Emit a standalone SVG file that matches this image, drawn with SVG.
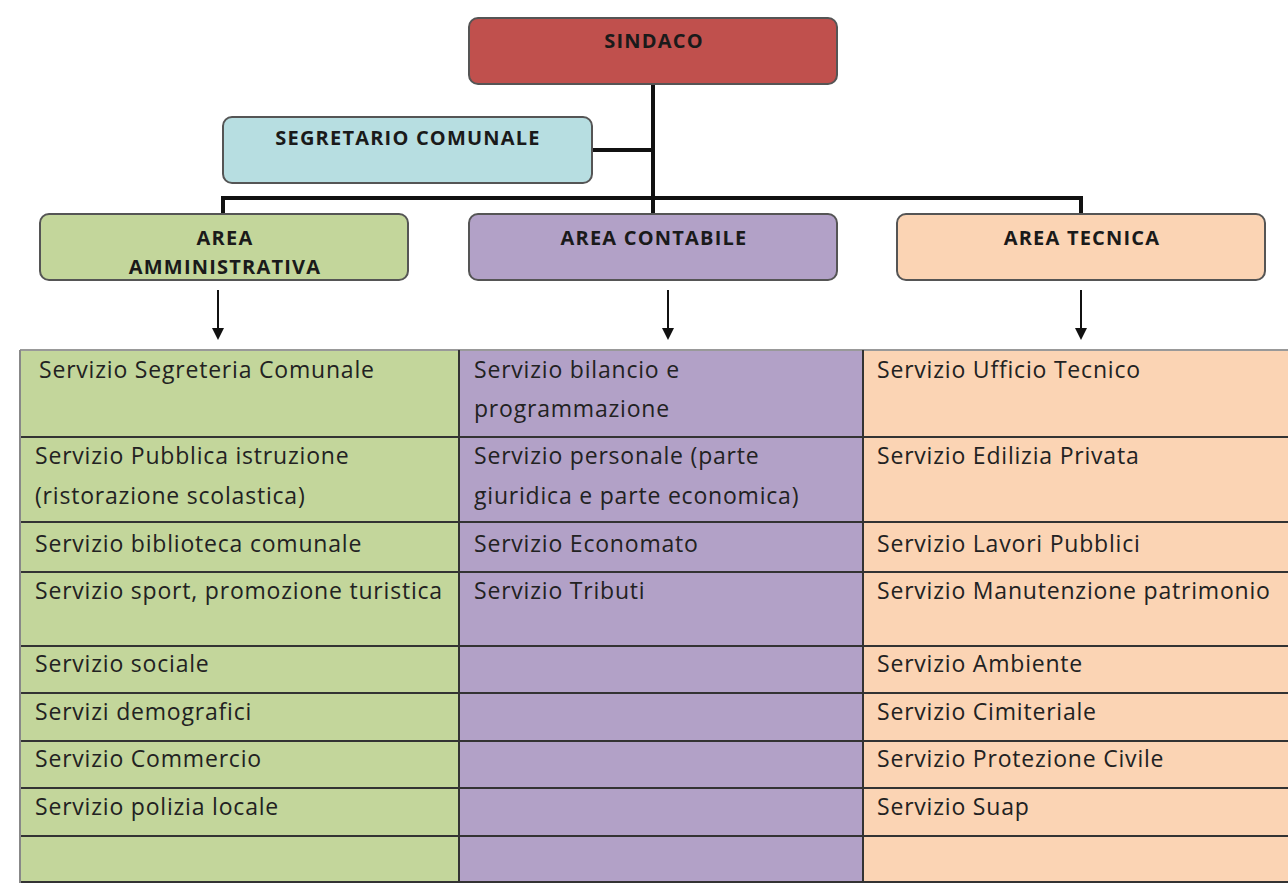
<svg xmlns="http://www.w3.org/2000/svg" width="1288" height="885" viewBox="0 0 1288 885">
<style>
.box{stroke:#555;stroke-width:2}
.hd{font-family:"Open Sans","Liberation Sans",sans-serif;font-weight:bold;font-size:20px;letter-spacing:1.2px;fill:#1a1a1a;text-anchor:middle}
.tx{font-family:"Open Sans","Liberation Sans",sans-serif;font-size:23px;letter-spacing:0.8px;fill:#222}
.ln{stroke:#111;stroke-width:4;fill:none}
.ar{stroke:#111;stroke-width:2;fill:none}
.grid{stroke:#333;stroke-width:2}
</style>
<defs>
<marker id="ah" markerWidth="12" markerHeight="12" refX="6" refY="6" orient="auto" markerUnits="userSpaceOnUse"><path d="M0,0 L12,6 L0,12 z" fill="#111"/></marker>
</defs>
<rect width="1288" height="885" fill="#fff"/>
<g id="connectors">
<path class="ln" d="M653,84 V213"/>
<path class="ln" d="M592,150 H653"/>
<path class="ln" d="M223,213 V198 H1081 V213"/>
<path class="ar" d="M218,290 V334" marker-end="url(#ah)"/>
<path class="ar" d="M668,290 V334" marker-end="url(#ah)"/>
<path class="ar" d="M1081,290 V334" marker-end="url(#ah)"/>
</g>
<g id="sindaco"><rect class="box" x="469" y="18" width="368" height="66" rx="9" fill="#C0504D"/><text class="hd" x="654" y="48">SINDACO</text></g>
<g id="segretario"><rect class="box" x="223" y="117" width="369" height="66" rx="9" fill="#B7DEE1"/><text class="hd" x="408" y="145">SEGRETARIO COMUNALE</text></g>
<g id="area-amm"><rect class="box" x="40" y="214" width="368" height="66" rx="9" fill="#C3D69B"/><text class="hd" x="225" y="245">AREA</text><text class="hd" x="225" y="274">AMMINISTRATIVA</text></g>
<g id="area-cont"><rect class="box" x="469" y="214" width="368" height="66" rx="9" fill="#B2A1C7"/><text class="hd" x="654" y="245">AREA CONTABILE</text></g>
<g id="area-tec"><rect class="box" x="897" y="214" width="368" height="66" rx="9" fill="#FBD4B4"/><text class="hd" x="1082" y="245">AREA TECNICA</text></g>
<g id="table">
<rect x="20" y="350" width="439" height="533" fill="#C3D69B"/>
<rect x="459" y="350" width="404" height="533" fill="#B2A1C7"/>
<rect x="863" y="350" width="425" height="533" fill="#FBD4B4"/>
<g class="grid">
<line x1="20" y1="350" x2="1288" y2="350" stroke="#999"/>
<line x1="20" y1="437" x2="1288" y2="437"/>
<line x1="20" y1="522" x2="1288" y2="522"/>
<line x1="20" y1="572" x2="1288" y2="572"/>
<line x1="20" y1="646" x2="1288" y2="646"/>
<line x1="20" y1="693" x2="1288" y2="693"/>
<line x1="20" y1="741" x2="1288" y2="741"/>
<line x1="20" y1="788" x2="1288" y2="788"/>
<line x1="20" y1="836" x2="1288" y2="836"/>
<line x1="20" y1="882" x2="1288" y2="882"/>
<line x1="20" y1="350" x2="20" y2="883" stroke="#888"/>
<line x1="459" y1="350" x2="459" y2="883"/>
<line x1="863" y1="350" x2="863" y2="883"/>
</g>
<text class="tx" x="39" y="378">Servizio Segreteria Comunale</text>
<text class="tx" x="35" y="464">Servizio Pubblica istruzione</text>
<text class="tx" x="35" y="504">(ristorazione scolastica)</text>
<text class="tx" x="35" y="552">Servizio biblioteca comunale</text>
<text class="tx" x="35" y="599">Servizio sport, promozione turistica</text>
<text class="tx" x="35" y="672">Servizio sociale</text>
<text class="tx" x="35" y="720">Servizi demografici</text>
<text class="tx" x="35" y="767">Servizio Commercio</text>
<text class="tx" x="35" y="815">Servizio polizia locale</text>
<text class="tx" x="474" y="378">Servizio bilancio e</text>
<text class="tx" x="474" y="417">programmazione</text>
<text class="tx" x="474" y="464">Servizio personale (parte</text>
<text class="tx" x="474" y="504">giuridica e parte economica)</text>
<text class="tx" x="474" y="552">Servizio Economato</text>
<text class="tx" x="474" y="599">Servizio Tributi</text>
<text class="tx" x="877" y="378">Servizio Ufficio Tecnico</text>
<text class="tx" x="877" y="464">Servizio Edilizia Privata</text>
<text class="tx" x="877" y="552">Servizio Lavori Pubblici</text>
<text class="tx" x="877" y="599">Servizio Manutenzione patrimonio</text>
<text class="tx" x="877" y="672">Servizio Ambiente</text>
<text class="tx" x="877" y="720">Servizio Cimiteriale</text>
<text class="tx" x="877" y="767">Servizio Protezione Civile</text>
<text class="tx" x="877" y="815">Servizio Suap</text>
</g>
</svg>
